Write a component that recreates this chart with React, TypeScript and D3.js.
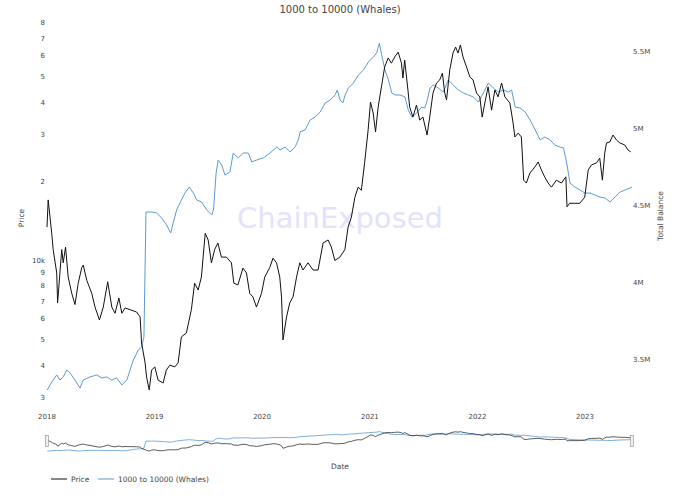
import { line, scaleLinear, scaleLog, scaleTime } from "d3";

// BTC price (USD)
const priceSeries: [string, number][] = [
  ["2018-01-01", 13400], ["2018-01-05", 17000], ["2018-01-17", 12700], ["2018-01-22", 11000],
  ["2018-02-03", 8960], ["2018-02-06", 6900], ["2018-02-20", 11000], ["2018-02-25", 9800],
  ["2018-03-05", 11250], ["2018-03-14", 8650], ["2018-03-26", 7500], ["2018-04-06", 6800],
  ["2018-04-17", 8200], ["2018-04-29", 9400], ["2018-05-04", 9600], ["2018-05-16", 8400],
  ["2018-06-02", 7500], ["2018-06-13", 6650], ["2018-06-28", 5940], ["2018-07-11", 6650],
  ["2018-07-26", 8300], ["2018-08-09", 6650], ["2018-08-20", 6300], ["2018-09-02", 7200],
  ["2018-09-12", 6300], ["2018-09-23", 6600], ["2018-10-10", 6500], ["2018-11-01", 6370],
  ["2018-11-13", 6100], ["2018-11-18", 4860], ["2018-11-30", 4080], ["2018-12-05", 3600],
  ["2018-12-14", 3220], ["2018-12-22", 3830], ["2019-01-02", 3940], ["2019-01-13", 3510],
  ["2019-01-30", 3420], ["2019-02-10", 3830], ["2019-02-22", 4000], ["2019-03-11", 3940],
  ["2019-03-22", 4080], ["2019-04-02", 5120], ["2019-04-19", 5300], ["2019-05-06", 6500],
  ["2019-05-17", 8200], ["2019-05-29", 7720], ["2019-06-09", 8650], ["2019-06-22", 12700],
  ["2019-07-02", 11970], ["2019-07-13", 9800], ["2019-07-24", 11000], ["2019-08-04", 11650],
  ["2019-08-16", 10300], ["2019-09-02", 10300], ["2019-09-19", 9800], ["2019-09-27", 8200],
  ["2019-10-11", 8070], ["2019-10-28", 9360], ["2019-11-09", 8960], ["2019-11-20", 7500],
  ["2019-12-01", 7270], ["2019-12-13", 6650], ["2019-12-30", 7500], ["2020-01-10", 8650],
  ["2020-01-27", 9400], ["2020-02-07", 10200], ["2020-02-19", 9800], ["2020-03-01", 8650],
  ["2020-03-07", 7270], ["2020-03-12", 4990], ["2020-03-24", 6100], ["2020-04-04", 6900],
  ["2020-04-15", 7270], ["2020-04-27", 8650], ["2020-05-08", 9800], ["2020-05-19", 9200],
  ["2020-06-05", 9800], ["2020-06-22", 9200], ["2020-07-09", 9200], ["2020-07-26", 11650],
  ["2020-08-12", 11970], ["2020-08-23", 11250], ["2020-09-04", 10000], ["2020-09-21", 10300],
  ["2020-10-08", 11000], ["2020-10-19", 13400], ["2020-10-30", 14600], ["2020-11-11", 17400],
  ["2020-11-22", 19000], ["2020-12-03", 18500], ["2020-12-14", 23500], ["2020-12-26", 31400],
  ["2021-01-03", 40000], ["2021-01-12", 36400], ["2021-01-20", 30800], ["2021-01-29", 38300],
  ["2021-02-09", 45700], ["2021-02-20", 54400], ["2021-03-04", 58900], ["2021-03-15", 56300],
  ["2021-03-26", 59400], ["2021-04-07", 62000], ["2021-04-18", 56300], ["2021-04-23", 49400],
  ["2021-04-29", 57800], ["2021-05-10", 44500], ["2021-05-16", 38300], ["2021-05-27", 35100],
  ["2021-06-08", 39000], ["2021-06-19", 34200], ["2021-06-30", 35100], ["2021-07-14", 30000],
  ["2021-07-23", 35100], ["2021-08-03", 43300], ["2021-08-15", 47300], ["2021-08-26", 48600],
  ["2021-09-04", 51600], ["2021-09-12", 43300], ["2021-09-18", 40800], ["2021-09-29", 53000],
  ["2021-10-10", 61500], ["2021-10-19", 64800], ["2021-10-27", 61500], ["2021-11-04", 66000],
  ["2021-11-13", 59400], ["2021-11-25", 54400], ["2021-12-06", 49900], ["2021-12-17", 48600],
  ["2021-12-29", 43300], ["2022-01-09", 41900], ["2022-01-17", 35100], ["2022-01-26", 39700],
  ["2022-02-06", 45700], ["2022-02-18", 37300], ["2022-03-01", 44500], ["2022-03-12", 41900],
  ["2022-03-24", 47300], ["2022-04-04", 41900], ["2022-04-21", 39700], ["2022-05-02", 33300],
  ["2022-05-08", 29500], ["2022-05-19", 30500], ["2022-05-30", 29500], ["2022-06-07", 20200],
  ["2022-06-16", 19700], ["2022-06-28", 21500], ["2022-07-15", 22700], ["2022-07-26", 23700],
  ["2022-08-06", 22100], ["2022-08-17", 20800], ["2022-08-29", 19700], ["2022-09-09", 19000],
  ["2022-09-26", 20200], ["2022-10-13", 19700], ["2022-10-28", 20800], ["2022-11-01", 16000],
  ["2022-11-10", 16500], ["2022-11-27", 16500], ["2022-12-14", 16500], ["2022-12-31", 17400],
  ["2023-01-12", 22100], ["2023-01-23", 23100], ["2023-02-09", 23500], ["2023-02-20", 24500],
  ["2023-03-01", 20200], ["2023-03-09", 25600], ["2023-03-15", 28000], ["2023-03-26", 28200],
  ["2023-04-06", 30000], ["2023-04-18", 28700], ["2023-04-29", 28000], ["2023-05-16", 27500],
  ["2023-05-27", 26300], ["2023-06-05", 25900],
];

// total balance of 1000-10000 BTC wallets, in millions
const balanceSeries: [string, number][] = [
  ["2018-01-02", 3.305], ["2018-01-11", 3.338], ["2018-01-22", 3.37], ["2018-02-03", 3.403],
  ["2018-02-14", 3.37], ["2018-02-25", 3.39], ["2018-03-09", 3.435], ["2018-03-20", 3.416],
  ["2018-04-06", 3.37], ["2018-04-23", 3.318], ["2018-05-04", 3.37], ["2018-05-27", 3.39],
  ["2018-06-19", 3.403], ["2018-07-06", 3.383], ["2018-07-23", 3.39], ["2018-08-09", 3.37],
  ["2018-08-26", 3.383], ["2018-09-12", 3.338], ["2018-09-29", 3.37], ["2018-10-10", 3.435],
  ["2018-10-21", 3.5], ["2018-11-07", 3.565], ["2018-11-18", 3.584], ["2018-11-26", 3.649],
  ["2018-12-03", 4.461], ["2018-12-22", 4.461], ["2019-01-08", 4.455], ["2019-01-25", 4.422],
  ["2019-02-11", 4.377], ["2019-02-25", 4.325], ["2019-03-06", 4.396], ["2019-03-17", 4.474],
  ["2019-03-28", 4.519], ["2019-04-14", 4.584], ["2019-04-29", 4.623], ["2019-05-13", 4.584],
  ["2019-05-24", 4.539], ["2019-06-10", 4.526], ["2019-06-27", 4.474], ["2019-07-14", 4.442],
  ["2019-07-20", 4.474], ["2019-07-29", 4.714], ["2019-08-05", 4.799], ["2019-08-17", 4.766],
  ["2019-08-28", 4.701], ["2019-09-14", 4.721], ["2019-09-25", 4.844], ["2019-10-12", 4.812],
  ["2019-10-29", 4.844], ["2019-11-15", 4.844], ["2019-11-27", 4.786], ["2019-12-14", 4.799],
  ["2020-01-05", 4.812], ["2020-01-28", 4.844], ["2020-02-20", 4.883], ["2020-03-02", 4.864],
  ["2020-03-19", 4.883], ["2020-04-05", 4.851], ["2020-04-22", 4.883], ["2020-05-03", 4.929],
  ["2020-05-09", 4.981], ["2020-05-26", 4.994], ["2020-06-12", 5.058], ["2020-06-29", 5.078],
  ["2020-07-16", 5.11], ["2020-08-02", 5.169], ["2020-08-19", 5.188], ["2020-09-05", 5.221],
  ["2020-09-12", 5.253], ["2020-09-22", 5.188], ["2020-10-01", 5.169], ["2020-10-09", 5.221],
  ["2020-10-20", 5.266], ["2020-11-06", 5.299], ["2020-11-23", 5.351], ["2020-12-10", 5.383],
  ["2020-12-27", 5.435], ["2021-01-13", 5.468], ["2021-01-24", 5.494], ["2021-02-02", 5.558],
  ["2021-02-10", 5.481], ["2021-02-21", 5.383], ["2021-03-05", 5.318], ["2021-03-16", 5.234],
  ["2021-03-27", 5.221], ["2021-04-13", 5.221], ["2021-04-30", 5.208], ["2021-05-11", 5.123],
  ["2021-05-23", 5.078], ["2021-06-09", 5.104], ["2021-06-26", 5.143], ["2021-07-06", 5.136],
  ["2021-07-13", 5.175], ["2021-07-24", 5.266], ["2021-08-04", 5.286], ["2021-08-21", 5.266],
  ["2021-09-07", 5.24], ["2021-09-24", 5.318], ["2021-10-11", 5.286], ["2021-10-28", 5.253],
  ["2021-11-14", 5.234], ["2021-12-01", 5.221], ["2021-12-18", 5.208], ["2022-01-04", 5.175],
  ["2022-01-21", 5.234], ["2022-02-07", 5.299], ["2022-02-24", 5.266], ["2022-03-13", 5.24],
  ["2022-03-30", 5.253], ["2022-04-16", 5.24], ["2022-04-27", 5.253], ["2022-05-09", 5.143],
  ["2022-05-26", 5.136], ["2022-06-12", 5.11], ["2022-06-29", 5.058], ["2022-07-16", 4.994],
  ["2022-08-02", 4.929], ["2022-08-18", 4.948], ["2022-09-04", 4.929], ["2022-09-21", 4.896],
  ["2022-10-08", 4.883], ["2022-10-20", 4.877], ["2022-10-31", 4.779], ["2022-11-11", 4.649],
  ["2022-11-28", 4.623], ["2022-12-15", 4.604], ["2023-01-01", 4.584], ["2023-01-18", 4.584],
  ["2023-02-04", 4.571], ["2023-02-21", 4.558], ["2023-03-10", 4.552], ["2023-03-27", 4.526],
  ["2023-04-13", 4.558], ["2023-04-30", 4.59], ["2023-05-17", 4.604], ["2023-06-03", 4.617],
  ["2023-06-10", 4.623],
];

const yearTicks = ["2018", "2019", "2020", "2021", "2022", "2023"];
const priceTicks = [3000, 4000, 5000, 6000, 7000, 8000, 9000, 10000, 20000, 30000, 40000, 50000, 60000, 70000, 80000];
const priceTickLabels = ["3", "4", "5", "6", "7", "8", "9", "10k", "2", "3", "4", "5", "6", "7", "8"];
const balanceTicks = [3.5, 4, 4.5, 5, 5.5];
const balanceTickLabels = ["3.5M", "4M", "4.5M", "5M", "5.5M"];
const legendItems = [
  { label: "Price", color: "#111" },
  { label: "1000 to 10000 (Whales)", color: "#5b9bd5" },
];

const W = 680;
const H = 499;
const FONT = "'DejaVu Sans', Verdana, sans-serif";
const PLOT_TOP = 15;
const PLOT_BOTTOM = 405;
const SLIDER_TOP = 430;
const SLIDER_BOTTOM = 452;

const parse = (s: string) => new Date(s + "T00:00:00");

const x = scaleTime()
  .domain([parse("2018-01-01"), parse("2023-01-01")])
  .range([47, 585]);
const yPrice = scaleLog().domain([3000, 80000]).range([398, 23]);
const yBal = scaleLinear().domain([3.5, 5.5]).range([360, 52]);

// range slider squeezes the plot's vertical range into a thin strip
const toSlider = (y: number) =>
  SLIDER_BOTTOM - ((PLOT_BOTTOM - y) / (PLOT_BOTTOM - PLOT_TOP)) * (SLIDER_BOTTOM - SLIDER_TOP);

export default function App() {
  const priceLine = line<[string, number]>()
    .x((d) => x(parse(d[0])))
    .y((d) => yPrice(d[1]));
  const balLine = line<[string, number]>()
    .x((d) => x(parse(d[0])))
    .y((d) => yBal(d[1]));
  const priceMini = line<[string, number]>()
    .x((d) => x(parse(d[0])))
    .y((d) => toSlider(yPrice(d[1])));
  const balMini = line<[string, number]>()
    .x((d) => x(parse(d[0])))
    .y((d) => toSlider(yBal(d[1])));

  const xStart = x(parse(priceSeries[0][0]));
  const xEnd = x(parse(balanceSeries[balanceSeries.length - 1][0]));

  return (
    <svg
      width={W}
      height={H}
      style={{ position: "absolute", left: 0, top: 0, background: "#fff" }}
      fontFamily={FONT}
    >
      <text x={340} y={12.5} textAnchor="middle" fontSize={10} fill="#444">
        1000 to 10000 (Whales)
      </text>

      <text
        x={340}
        y={228}
        textAnchor="middle"
        fontSize={29}
        fill="#e4e2fb"
      >
        ChainExposed
      </text>

      {priceTicks.map((t, i) => (
        <text
          key={`p-${t}`}
          x={45}
          y={yPrice(t)}
          dy="0.35em"
          textAnchor="end"
          fontSize={7}
          fill="#444"
        >
          {priceTickLabels[i]}
        </text>
      ))}
      {balanceTicks.map((t, i) => (
        <text
          key={`b-${t}`}
          x={633}
          y={yBal(t)}
          dy="0.35em"
          textAnchor="start"
          fontSize={7}
          fill="#444"
        >
          {balanceTickLabels[i]}
        </text>
      ))}
      {yearTicks.map((t) => (
        <text
          key={`y-${t}`}
          x={x(parse(`${t}-01-01`))}
          y={417}
          dy="0.35em"
          textAnchor="middle"
          fontSize={7}
          fill="#444"
        >
          {t}
        </text>
      ))}

      <text
        transform="translate(24,218) rotate(-90)"
        textAnchor="middle"
        fontSize={7.5}
        fill="#444"
      >
        Price
      </text>
      <text
        transform="translate(663,216) rotate(-90)"
        textAnchor="middle"
        fontSize={7.5}
        fill="#444"
      >
        Total Balance
      </text>
      <text x={340} y={469} textAnchor="middle" fontSize={7.5} fill="#444">
        Date
      </text>

      <path d={balLine(balanceSeries) ?? ""} fill="none" stroke="#5b9bd5" strokeWidth={1} />
      <path d={priceLine(priceSeries) ?? ""} fill="none" stroke="#111" strokeWidth={1} />

      {/* range slider */}
      <path d={balMini(balanceSeries) ?? ""} fill="none" stroke="#5b9bd5" strokeWidth={0.8} />
      <path d={priceMini(priceSeries) ?? ""} fill="none" stroke="#333" strokeWidth={0.8} />
      {[xStart, xEnd].map((hx) => (
        <rect
          key={`h-${hx}`}
          x={hx - 1.5}
          y={435.5}
          width={3}
          height={11}
          fill="#f2f2f2"
          stroke="#999"
          strokeWidth={0.7}
        />
      ))}

      {legendItems.map((item, i) => {
        const lx = i === 0 ? 51 : 98;
        return (
          <g key={item.label}>
            <line x1={lx} x2={lx + 16} y1={479} y2={479} stroke={item.color} strokeWidth={1} />
            <text x={lx + 20} y={479} dy="0.35em" fontSize={7.5} fill="#444">
              {item.label}
            </text>
          </g>
        );
      })}
    </svg>
  );
}
